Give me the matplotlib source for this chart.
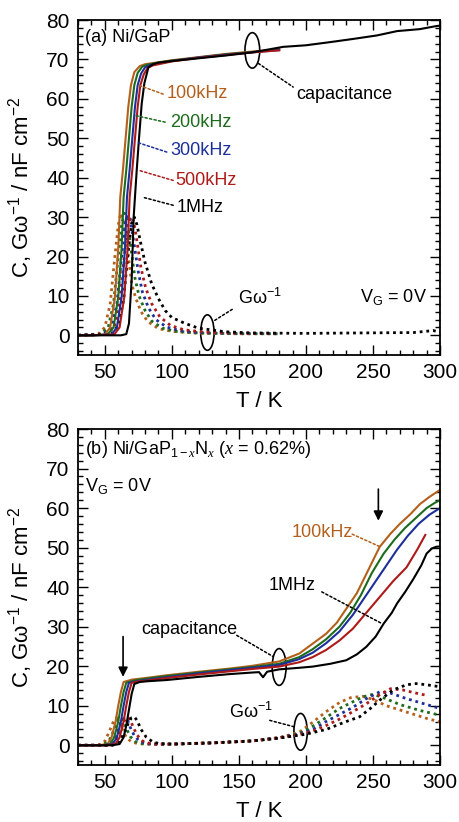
import matplotlib
matplotlib.use("Agg")
from matplotlib import pyplot as plt
from matplotlib.patches import Ellipse
from matplotlib.ticker import MultipleLocator

plt.rcParams['font.family'] = ['Liberation Sans', 'DejaVu Sans']
plt.rcParams['mathtext.fontset'] = 'custom'
plt.rcParams['mathtext.rm'] = 'Liberation Sans'
plt.rcParams['mathtext.it'] = 'Liberation Serif:italic'
plt.rcParams['mathtext.default'] = 'rm'

freqs = ["100kHz", "200kHz", "300kHz", "500kHz", "1MHz"]
colors = ["#b4601c", "#1d6b1d", "#1c2f9a", "#ad1a1a", "#000000"]

# ---- panel (a) Ni/GaP : capacitance ----
Ta_C = [
    [30, 40, 50, 54, 57.5, 60, 61.5, 63.5, 65.5, 67.5, 69.5, 72, 76, 80, 90, 100, 120, 140, 160, 180],
    [30, 40, 52, 56.5, 60, 62.5, 64, 66, 68, 70, 72, 74.5, 78, 82, 90, 100, 120, 140, 160, 180],
    [30, 40, 55, 59, 62.5, 65, 66.5, 68.5, 70.5, 72.5, 74.5, 77, 80, 84, 92, 100, 120, 140, 160, 180],
    [30, 40, 57, 61, 64.5, 67, 68.5, 70.5, 72.5, 74.5, 76.5, 79, 82, 86, 93, 100, 120, 140, 160, 180],
    [30, 50, 62, 66, 68, 70, 71.5, 73.8, 75.5, 77.5, 79.5, 82.5, 86, 90, 100, 120, 140, 160, 183, 200,
     218, 235, 253, 268, 285, 296, 300],
]
Ca_C = [
    [0, 0, 0.2, 2, 9.7, 22, 35, 42, 50, 58, 63.5, 66.8, 68.3, 68.8, 69.3, 69.8, 70.6, 71.4, 72.0, 72.6],
    [0, 0, 0.2, 2, 9.7, 22, 35, 42, 50, 58, 63.5, 66.6, 68.2, 68.7, 69.2, 69.7, 70.5, 71.3, 71.9, 72.5],
    [0, 0, 0.2, 2, 9.7, 22, 35, 42, 50, 58, 63.5, 66.4, 68.0, 68.6, 69.1, 69.6, 70.5, 71.2, 71.8, 72.4],
    [0, 0, 0.2, 2, 9.7, 22, 35, 42, 50, 58, 63.5, 66.2, 67.9, 68.5, 69.0, 69.5, 70.4, 71.1, 71.8, 72.3],
    [0, 0, 0, 0.3, 3, 14, 30, 42, 50, 58.8, 64, 68, 68.8, 69.2, 69.6, 70.3, 71.0, 71.8, 73.2, 73.6,
     74.4, 75.2, 76.1, 77.2, 77.7, 78.4, 78.6],
]

# ---- panel (a) : G/omega ----
Ta_G = [
    [30, 45, 50, 54, 57.5, 60, 62, 64, 66, 68, 70, 73, 77, 82, 90, 100, 120, 150, 180],
    [30, 47, 52.5, 56.5, 60, 62.5, 64.5, 66.5, 68.5, 70.5, 72.5, 75.5, 80, 85, 93, 103, 120, 150, 180],
    [30, 49, 55, 59, 62.5, 65, 67, 69, 71, 73, 75, 78, 82.5, 88, 96, 106, 120, 150, 180],
    [30, 51, 57, 61, 64.5, 67, 69, 71, 73, 75, 77, 80.5, 85, 91, 99, 109, 125, 150, 180],
    [30, 55, 60, 64, 67, 70, 72, 74, 77, 80, 85, 90, 95, 100, 110, 120, 140, 160, 200, 240, 280, 295, 300],
]
Ga_G = [
    [0, 0.3, 2, 8, 20, 28, 31, 29, 25, 19, 13, 9.5, 6, 3.5, 1.7, 1.0, 0.5, 0.4, 0.4],
    [0, 0.3, 2, 8, 20, 28, 31, 29.5, 24.5, 19.5, 14.5, 10, 6.3, 3.6, 1.8, 1.0, 0.6, 0.4, 0.4],
    [0, 0.3, 2, 8, 20, 28, 30.5, 29.5, 25, 20.5, 16, 11, 7, 4, 2.1, 1.2, 0.7, 0.5, 0.4],
    [0, 0.3, 2, 8, 20, 28, 30, 29.5, 26, 21.5, 17, 12, 8, 4.7, 2.5, 1.4, 0.8, 0.5, 0.5],
    [0, 0.3, 2.5, 9, 20, 28.5, 30, 28, 23, 18.5, 13, 9.3, 6.3, 4.5, 3.0, 1.8, 0.9, 0.6, 0.5, 0.6, 0.7, 1.2, 0.8],
]

# ---- panel (b) Ni/GaPN : capacitance ----
Tb_C = [
    [30, 45, 52, 55, 58, 60, 62, 64, 67, 70, 80, 96, 120, 143, 160, 180, 195, 205, 215, 223, 230, 238,
     246, 255, 263, 270, 278, 285, 292, 300],
    [30, 47, 54, 57, 60, 62, 64, 66, 69, 72, 80, 96, 120, 143, 160, 180, 195, 205, 215, 225, 233, 241,
     249, 258, 266, 274, 282, 290, 296, 300],
    [30, 49, 56, 59, 62, 64, 66, 68, 71, 74, 80, 96, 120, 143, 160, 180, 195, 205, 215, 225, 235, 244,
     252, 260, 268, 276, 284, 292, 300],
    [30, 51, 58, 61, 64, 66, 68, 70, 73, 76, 82, 96, 120, 143, 160, 180, 195, 205, 215, 225, 235, 245,
     255, 265, 275, 283, 289],
    [30, 55, 61, 64, 66, 68, 70, 72, 76, 82, 96, 120, 143, 160, 165, 168, 171, 180, 195, 205, 218, 230,
     238, 245, 252, 258, 264, 268, 274, 280, 286, 290, 294, 297, 300],
]
Cb_C = [
    [0, 0, 0.3, 2, 6, 10, 13.5, 16, 16.3, 16.6, 17, 17.7, 18.6, 19.4, 20.1, 21.2, 23.2, 25.7, 28.2, 31,
     34.5, 38.5, 44, 50.2, 53.5, 56, 58.5, 61, 62.8, 64.6],
    [0, 0, 0.3, 2, 6, 10, 13.5, 15.8, 16.1, 16.4, 16.8, 17.5, 18.4, 19.2, 19.8, 20.6, 22.3, 24.3, 26.8,
     30, 33.5, 38, 43.5, 48.5, 52, 55, 57.5, 60, 61.3, 62],
    [0, 0, 0.3, 2, 6, 10, 13.5, 15.8, 16, 16.2, 16.5, 17.2, 18.2, 19, 19.6, 20.3, 21.8, 23.4, 25.8, 28.8,
     33, 37.5, 41.5, 45.5, 49.5, 53, 56, 58.3, 60],
    [0, 0, 0.3, 2, 6, 10, 13.5, 15.8, 16, 16.2, 16.4, 17, 17.9, 18.7, 19.3, 19.9, 21, 22.3, 24.1, 26.5,
     29.5, 33.5, 37.5, 41.5, 45, 49.5, 53.2],
    [0, 0, 0.3, 2, 5, 9, 13, 15.5, 16, 16.2, 16.5, 17.3, 18, 18.4, 18.5, 17.2, 18.6, 19.2, 19.6, 19.9,
     20.6, 21.5, 23, 24.9, 27.5, 30.8, 33.5, 35.9, 38.8, 42, 45.5, 48.5, 49.8, 50.2, 50.3],
]

# ---- panel (b) : G/omega ----
Tb_G = [
    [30, 45, 50, 54, 57, 59, 61, 63, 66, 70, 75, 80, 100, 130, 160, 180, 195, 205, 215, 225, 233, 242,
     250, 260, 275, 290, 300],
    [30, 48, 53, 57, 60, 62, 64, 66, 69, 73, 78, 83, 100, 130, 160, 180, 195, 205, 215, 225, 235, 243,
     250, 258, 270, 285, 300],
    [30, 51, 56, 60, 63, 65, 67, 69, 72, 76, 81, 86, 100, 130, 160, 180, 195, 205, 215, 225, 235, 245,
     255, 263, 275, 290, 300],
    [30, 53, 58, 62, 65, 67, 69, 71, 74, 78, 83, 88, 100, 130, 160, 180, 195, 205, 215, 225, 235, 245,
     255, 263, 272, 282, 289],
    [30, 56, 61, 65, 68, 70, 72, 74, 77, 81, 86, 91, 100, 130, 160, 180, 200, 215, 230, 240, 248, 255,
     265, 275, 282, 290, 300],
]
Gb_G = [
    [0, 0, 1, 4, 6.5, 7, 6, 4, 2, 0.8, 0.4, 0.3, 0.3, 0.6, 1.1, 1.9, 3.3, 5.8, 8.5, 10.8, 12, 12.4,
     11.6, 10, 8.4, 6.8, 5.9],
    [0, 0, 1, 4, 6.5, 7, 6.2, 4.3, 2.2, 0.9, 0.4, 0.3, 0.3, 0.6, 1.1, 1.9, 3.0, 4.8, 7, 9.3, 11, 12.3,
     12.9, 12, 10.3, 8.8, 7.6],
    [0, 0, 1, 4, 6.5, 7, 6.3, 4.5, 2.4, 1, 0.5, 0.3, 0.3, 0.6, 1.1, 1.9, 2.8, 4, 6, 7.8, 9.6, 11.8,
     13.5, 13.2, 11.8, 10.3, 9.3],
    [0, 0, 1, 4, 6.5, 7.1, 6.5, 4.7, 2.6, 1.1, 0.5, 0.3, 0.3, 0.6, 1.1, 1.9, 2.7, 3.6, 5, 6.6, 8.5,
     10.5, 12.8, 14.3, 14, 13.2, 12.7],
    [0, 0, 1, 3.5, 6, 7, 7.2, 6.3, 4, 2, 0.8, 0.4, 0.3, 0.6, 1.1, 1.8, 2.8, 4, 6, 7.2, 9.3, 11.4, 14,
     15.3, 15.6, 15.3, 14.8],
]

fig = plt.figure(figsize=(4.6, 8.22), dpi=100)
ax_a = fig.add_axes([0.1696, 0.5681, 0.787, 0.4075])
ax_b = fig.add_axes([0.1696, 0.0693, 0.787, 0.4088])

ylab = "C, G\u03c9$^{-1}$ / nF cm$^{-2}$"

for ax in (ax_a, ax_b):
    ax.set_xlim(30, 300)
    ax.set_ylim(-5, 80)
    ax.xaxis.set_major_locator(MultipleLocator(50))
    ax.xaxis.set_minor_locator(MultipleLocator(10))
    ax.yaxis.set_major_locator(MultipleLocator(10))
    ax.yaxis.set_minor_locator(MultipleLocator(2))
    ax.tick_params(which='both', direction='in', top=True, right=True, labelsize=15, width=1.0)
    ax.tick_params(which='major', length=7, pad=6)
    ax.tick_params(which='minor', length=3.5)
    for s in ax.spines.values():
        s.set_linewidth(1.3)
    ax.set_xlabel("T / K", fontsize=16, labelpad=6)
    ax.set_ylabel(ylab, fontsize=16)
    ax.yaxis.set_label_coords(-0.118, 0.5)

dot = (0, (1, 1.4))

# panel (a) curves
for i in range(5):
    ax_a.plot(Ta_G[i], Ga_G[i], color=colors[i], lw=2.0, ls=dot)
for i in range(5):
    ax_a.plot(Ta_C[i], Ca_C[i], color=colors[i], lw=1.5)

# panel (b) curves
for i in range(5):
    ax_b.plot(Tb_G[i], Gb_G[i], color=colors[i], lw=2.0, ls=dot)
for i in range(5):
    ax_b.plot(Tb_C[i], Cb_C[i], color=colors[i], lw=1.5)


def leader(ax, p0, p1, c='k'):
    ax.annotate('', xy=p1, xytext=p0,
                arrowprops=dict(arrowstyle='-', ls=(0, (1.5, 1.5)), color=c, lw=1.1,
                                shrinkA=0, shrinkB=0))


# ---- panel (a) annotations ----
ax_a.text(35.5, 75.6, "(a) Ni/GaP", fontsize=13, va='center', ha='left')
label_pos_a = [(96.4, 61.4), (98.7, 54.0), (98.7, 47.0), (102.4, 39.3), (103.6, 32.5)]
leader_a = [((93.5, 61.2), (75, 63.5)), ((95, 54.1), (72.5, 55.8)), ((96.2, 46.5), (73.8, 49.0)),
            ((101, 39.3), (75, 41.9)), ((101, 33.0), (78.7, 35.0))]
for i in range(5):
    ax_a.text(*label_pos_a[i], freqs[i], color=colors[i], fontsize=13, va='center', ha='left')
    leader(ax_a, leader_a[i][0], leader_a[i][1], colors[i])

ax_a.add_patch(Ellipse((160, 72.3), 11, 9, fill=False, ec='k', lw=1.2))
leader(ax_a, (164.5, 69.0), (190.5, 63.0))
ax_a.text(193, 61.0, "capacitance", fontsize=13, va='center', ha='left')

ax_a.add_patch(Ellipse((126.5, 0.7), 10, 9, fill=False, ec='k', lw=1.2))
leader(ax_a, (132, 3.8), (146, 6.8))
ax_a.text(149.4, 9.6, "G\u03c9$^{-1}$", fontsize=13, va='center', ha='left')
ax_a.text(240.4, 9.6, "V$_\\mathrm{G}$ = 0V", fontsize=13, va='center', ha='left')

# ---- panel (b) annotations ----
ax_b.text(35.5, 74.8, "(b) Ni/GaP$_{1-\\mathit{x}}$N$_{\\mathit{x}}$ ($\\mathit{x}$ = 0.62%)",
          fontsize=13, va='center', ha='left')
ax_b.text(35.5, 65.5, "V$_\\mathrm{G}$ = 0V", fontsize=13, va='center', ha='left')

ax_b.annotate('', xy=(63.6, 17.3), xytext=(63.6, 27.5),
              arrowprops=dict(arrowstyle='-|>', color='k', lw=1.2, mutation_scale=14,
                              shrinkA=0, shrinkB=0))
ax_b.annotate('', xy=(254, 56.8), xytext=(254, 64.8),
              arrowprops=dict(arrowstyle='-|>', color='k', lw=1.2, mutation_scale=14,
                              shrinkA=0, shrinkB=0))

ax_b.text(212, 53.7, freqs[0], color=colors[0], fontsize=13, va='center', ha='center')
leader(ax_b, (234.5, 53.4), (255.4, 50.2), colors[0])
ax_b.text(190, 40.5, freqs[4], color=colors[4], fontsize=13, va='center', ha='center')
leader(ax_b, (211.8, 38.8), (256.6, 30.8))

ax_b.add_patch(Ellipse((180, 19.8), 10.4, 9.3, fill=False, ec='k', lw=1.2))
ax_b.text(113, 29.3, "capacitance", fontsize=13, va='center', ha='center')
leader(ax_b, (148.4, 27.8), (175.7, 22.4))

ax_b.add_patch(Ellipse((196, 3.4), 10, 9.3, fill=False, ec='k', lw=1.2))
ax_b.text(158.7, 8.4, "G\u03c9$^{-1}$", fontsize=13, va='center', ha='center')
leader(ax_b, (173, 6.3), (192, 4.6))

fig.savefig("out.png", dpi=100)
